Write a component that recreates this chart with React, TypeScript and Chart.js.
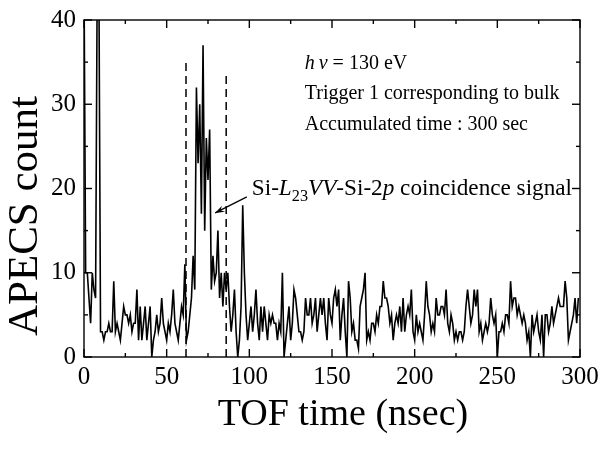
import React, { useEffect, useRef } from 'react';
import { Chart, registerables } from 'chart.js';

Chart.register(...registerables);

// APECS counts per 1-nsec TOF bin (0 .. 299 nsec)
const counts: number[] = [
  45, 10, 10, 7, 4, 10, 8, 7, 45, 45,
  3, 3, 2, 3, 3, 4, 3, 3, 9, 3,
  4, 3, 2, 4, 6, 5, 5, 4, 5, 3,
  4, 4, 8, 2, 6, 2, 4, 6, 2, 4,
  6, 0, 2, 3, 5, 3, 4, 7, 4, 3,
  2, 4, 3, 5, 8, 4, 3, 2, 4, 6,
  5, 11, 2, 3, 5, 7, 12, 8, 32, 23,
  30, 17, 37, 15, 26, 21, 27, 8, 12, 9,
  10, 15, 7, 10, 6, 10, 8, 10, 6, 3,
  5, 8, 3, 0, 2, 6, 18, 10, 5, 2,
  4, 6, 3, 5, 8, 4, 2, 6, 3, 6,
  4, 2, 5, 4, 5, 4, 4, 2, 4, 3,
  10, 0, 2, 4, 6, 2, 4, 8, 7, 5,
  3, 3, 2, 3, 7, 5, 5, 7, 4, 5,
  7, 3, 5, 7, 5, 7, 4, 2, 7, 5,
  4, 7, 8, 6, 8, 2, 5, 7, 3, 0,
  9, 7, 3, 4, 2, 2, 1, 6, 7, 8,
  10, 2, 3, 2, 4, 4, 3, 5, 4, 6,
  6, 9, 7, 7, 6, 4, 5, 2, 4, 5,
  4, 6, 3, 7, 3, 5, 6, 5, 8, 3,
  2, 5, 3, 4, 3, 2, 5, 9, 6, 5,
  3, 4, 3, 7, 5, 5, 6, 6, 5, 8,
  4, 3, 5, 4, 2, 3, 2, 3, 3, 2,
  3, 6, 8, 6, 4, 5, 8, 6, 8, 3,
  4, 2, 3, 4, 3, 4, 7, 5, 4, 5,
  0, 3, 3, 4, 3, 5, 5, 4, 9, 6,
  7, 7, 5, 6, 5, 4, 5, 4, 2, 3,
  0, 5, 3, 4, 5, 3, 2, 5, 0, 5,
  5, 3, 4, 6, 4, 5, 6, 7, 6, 6,
  6, 9, 7, 2, 3, 4, 5, 7, 4, 7,
];

// time window markers (dashed lines): [time, top count]
const windowLeft = [61.7, 35.5];
const windowRight = [86, 33.6];

const xRange = [0, 300];
const yRange = [0, 40];
const xMajorStep = 50;
const xMinorStep = 25;
const yMajorStep = 10;
const yMinorStep = 5;

const xTitle = 'TOF time (nsec)';
const yTitle = 'APECS count';

const FONT = '"Liberation Serif", "Times New Roman", serif';

type Seg = { text: string; italic?: boolean; sub?: boolean };

const infoLines: Seg[][] = [
  [{ text: 'h', italic: true }, { text: '\u2009' }, { text: 'ν', italic: true }, { text: ' = 130 eV' }],
  [{ text: 'Trigger 1 corresponding to bulk' }],
  [{ text: 'Accumulated time : 300 sec' }],
];
const infoPos = { x: 133.5, y: [34.8, 31.2, 27.6] };

const signalLabel: Seg[] = [
  { text: 'Si-' },
  { text: 'L', italic: true },
  { text: '23', sub: true },
  { text: 'VV', italic: true },
  { text: '-Si-2' },
  { text: 'p', italic: true },
  { text: ' coincidence signal' },
];
const signalPos = { x: 101.5, y: 19.9 };
const arrowFrom = { x: 98.5, y: 19.0 };
const arrowTo = { x: 79.3, y: 17.1 };

function drawRich(ctx: CanvasRenderingContext2D, segs: Seg[], x: number, y: number, size: number) {
  let cx = x;
  for (const s of segs) {
    const fs = s.sub ? size * 0.7 : size;
    ctx.font = `${s.italic ? 'italic ' : ''}${fs}px ${FONT}`;
    const dy = s.sub ? size * 0.32 : 0;
    ctx.fillText(s.text, cx, y + dy);
    cx += ctx.measureText(s.text).width;
  }
}

const framePlugin = {
  id: 'frameAndNotes',
  afterDatasetsDraw(chart: any) {
    const { ctx, chartArea: a } = chart;
    const xs = chart.scales.x;
    const ys = chart.scales.y;
    ctx.save();
    ctx.strokeStyle = '#000';
    ctx.fillStyle = '#000';
    ctx.lineWidth = 1.4;
    ctx.strokeRect(a.left, a.top, a.right - a.left, a.bottom - a.top);
    const line = (x1: number, y1: number, x2: number, y2: number) => {
      ctx.beginPath();
      ctx.moveTo(x1, y1);
      ctx.lineTo(x2, y2);
      ctx.stroke();
    };
    for (let v = xRange[0]; v <= xRange[1]; v += xMinorStep) {
      const px = xs.getPixelForValue(v);
      const len = v % xMajorStep === 0 ? 8 : 4;
      line(px, a.bottom, px, a.bottom - len);
      line(px, a.top, px, a.top + len);
    }
    for (let v = yRange[0]; v <= yRange[1]; v += yMinorStep) {
      const py = ys.getPixelForValue(v);
      const len = v % yMajorStep === 0 ? 8 : 4;
      line(a.left, py, a.left + len, py);
      line(a.right, py, a.right - len, py);
    }

    // axis titles (drawn by hand so they sit where the original has them)
    ctx.textAlign = 'center';
    ctx.textBaseline = 'middle';
    ctx.font = `38px ${FONT}`;
    ctx.fillText(xTitle, 343, 415);
    ctx.save();
    ctx.translate(26, 216);
    ctx.rotate(-Math.PI / 2);
    ctx.font = `43px ${FONT}`;
    ctx.fillText(yTitle, 0, 0);
    ctx.restore();

    // annotations
    ctx.textAlign = 'left';
    ctx.textBaseline = 'middle';
    infoLines.forEach((segs, i) => {
      drawRich(ctx, segs, xs.getPixelForValue(infoPos.x), ys.getPixelForValue(infoPos.y[i]), 20);
    });
    drawRich(ctx, signalLabel, xs.getPixelForValue(signalPos.x), ys.getPixelForValue(signalPos.y), 23.2);

    // arrow
    const fx = xs.getPixelForValue(arrowFrom.x);
    const fy = ys.getPixelForValue(arrowFrom.y);
    const tx = xs.getPixelForValue(arrowTo.x);
    const ty = ys.getPixelForValue(arrowTo.y);
    ctx.lineWidth = 1.3;
    line(fx, fy, tx, ty);
    const ang = Math.atan2(ty - fy, tx - fx);
    const hl = 10;
    ctx.beginPath();
    ctx.moveTo(tx, ty);
    ctx.lineTo(tx - hl * Math.cos(ang - 0.35), ty - hl * Math.sin(ang - 0.35));
    ctx.lineTo(tx - hl * 0.6 * Math.cos(ang), ty - hl * 0.6 * Math.sin(ang));
    ctx.lineTo(tx - hl * Math.cos(ang + 0.35), ty - hl * Math.sin(ang + 0.35));
    ctx.closePath();
    ctx.fill();
    ctx.restore();
  },
};

export default function App() {
  const ref = useRef<HTMLCanvasElement | null>(null);
  useEffect(() => {
    document.body.style.margin = '0';
    const canvas = ref.current;
    if (!canvas) return;
    const chart = new Chart(canvas, {
      type: 'line',
      data: {
        datasets: [
          {
            data: counts.map((c, i) => ({ x: i, y: c })),
            borderColor: '#000',
            borderWidth: 1.6,
            pointRadius: 0,
            tension: 0,
            fill: false,
          },
          {
            data: [
              { x: windowLeft[0], y: 0 },
              { x: windowLeft[0], y: windowLeft[1] },
            ],
            borderColor: '#000',
            borderWidth: 1.5,
            borderDash: [8, 5],
            pointRadius: 0,
          },
          {
            data: [
              { x: windowRight[0], y: 0 },
              { x: windowRight[0], y: windowRight[1] },
            ],
            borderColor: '#000',
            borderWidth: 1.5,
            borderDash: [8, 5],
            pointRadius: 0,
          },
        ],
      },
      options: {
        animation: false,
        responsive: false,
        devicePixelRatio: 1,
        layout: { padding: { top: 20, right: 19, left: 0, bottom: 0 } },
        plugins: { legend: { display: false }, tooltip: { enabled: false } },
        scales: {
          x: {
            type: 'linear',
            min: xRange[0],
            max: xRange[1],
            ticks: { stepSize: xMajorStep, color: '#000', font: { family: FONT, size: 25 }, padding: 5, maxRotation: 0 },
            grid: { display: false, drawTicks: false },
            border: { display: false },
            title: { display: false },
            afterFit: (s: any) => {
              s.height = 94;
              s.paddingLeft = 0;
              s.paddingRight = 0;
            },
          },
          y: {
            type: 'linear',
            min: yRange[0],
            max: yRange[1],
            ticks: { stepSize: yMajorStep, color: '#000', font: { family: FONT, size: 25 }, padding: 8 },
            grid: { display: false, drawTicks: false },
            border: { display: false },
            title: { display: false },
            afterFit: (s: any) => {
              s.width = 84;
              s.paddingTop = 0;
              s.paddingBottom = 0;
            },
          },
        },
      },
      plugins: [framePlugin],
    } as any);
    return () => chart.destroy();
  }, []);
  return <canvas ref={ref} width={599} height={451} style={{ display: 'block' }} />;
}
